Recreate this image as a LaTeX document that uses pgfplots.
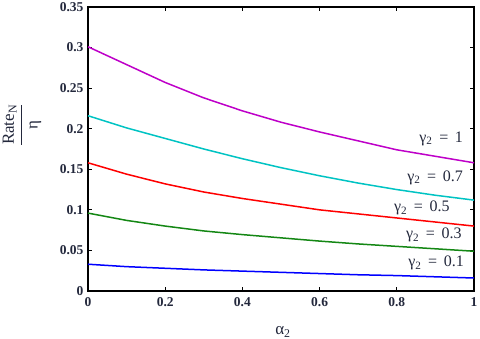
\documentclass[border=0pt]{standalone}
\usepackage{amsmath}
\usepackage{fontspec}
\setmainfont{Liberation Serif}
\usepackage{pgfplots}
\pgfplotsset{compat=1.18}
\definecolor{cmag}{RGB}{190,0,200}
\definecolor{ccyan}{RGB}{0,195,195}
\definecolor{cred}{RGB}{255,0,0}
\definecolor{cgreen}{RGB}{20,135,20}
\definecolor{cblue}{RGB}{0,0,255}
\definecolor{ctxt}{RGB}{35,40,60}
\begin{document}
\begin{tikzpicture}
\begin{axis}[
  scale only axis,
  width=386pt, height=284pt,
  xmin=0, xmax=1, ymin=0, ymax=0.35,
  xtick={0,0.2,0.4,0.6,0.8,1},
  xticklabels={0,0.2,0.4,0.6,0.8,1},
  ytick={0,0.05,0.1,0.15,0.2,0.25,0.3,0.35},
  yticklabels={0,0.05,0.1,0.15,0.2,0.25,0.3,0.35},
  tick align=inside,
  major tick length=4pt,
  tick style={line width=1.2pt, black},
  axis line style={line width=1.6pt},
  ticklabel style={font=\bfseries\fontsize{13.5}{14}\selectfont, text=ctxt},
  /pgf/number format/assume math mode=true,
  xticklabel style={yshift=-3pt},
  yticklabel style={xshift=-1pt},
  xlabel={α\textsubscript{2}},
  xlabel style={at={(axis description cs:0.505,-0.144)}, anchor=center, font=\fontsize{17}{17}\selectfont, text=ctxt},
  ylabel={\fontsize{17}{17}\selectfont$\dfrac{\text{Rate}_{\text{N}}}{\text{η}}$},
  ylabel style={at={(axis description cs:-0.171,0.585)}, anchor=center, text=ctxt},
  every axis plot/.append style={line width=1.5pt},
  clip=false,
]
\addplot[cmag] coordinates {(0,0.301)(0.1,0.279)(0.2,0.257)(0.3,0.238)(0.4,0.222)(0.5,0.208)(0.6,0.196)(0.7,0.185)(0.8,0.174)(0.9,0.166)(1,0.158)};
\addplot[ccyan] coordinates {(0,0.216)(0.1,0.201)(0.2,0.188)(0.3,0.175)(0.4,0.163)(0.5,0.152)(0.6,0.142)(0.7,0.133)(0.8,0.125)(0.9,0.118)(1,0.112)};
\addplot[cred] coordinates {(0,0.158)(0.1,0.144)(0.2,0.132)(0.3,0.122)(0.4,0.114)(0.5,0.107)(0.6,0.100)(0.7,0.095)(0.8,0.090)(0.9,0.085)(1,0.080)};
\addplot[cgreen] coordinates {(0,0.096)(0.1,0.087)(0.2,0.080)(0.3,0.074)(0.4,0.0695)(0.5,0.0655)(0.6,0.0615)(0.7,0.058)(0.8,0.055)(0.9,0.052)(1,0.049)};
\addplot[cblue] coordinates {(0,0.033)(0.1,0.030)(0.2,0.028)(0.3,0.026)(0.4,0.0245)(0.5,0.023)(0.6,0.0215)(0.7,0.020)(0.8,0.019)(0.9,0.0175)(1,0.016)};
\node[text=ctxt, font=\fontsize{16}{16}\selectfont] at (axis cs:0.915,0.188) {γ\textsubscript{2}\, =\, 1};
\node[text=ctxt, font=\fontsize{16}{16}\selectfont] at (axis cs:0.899,0.140) {γ\textsubscript{2}\, =\, 0.7};
\node[text=ctxt, font=\fontsize{16}{16}\selectfont] at (axis cs:0.865,0.102) {γ\textsubscript{2}\, =\, 0.5};
\node[text=ctxt, font=\fontsize{16}{16}\selectfont] at (axis cs:0.896,0.0688) {γ\textsubscript{2}\, =\, 0.3};
\node[text=ctxt, font=\fontsize{16}{16}\selectfont] at (axis cs:0.902,0.0344) {γ\textsubscript{2}\, =\, 0.1};
\end{axis}
\pgfresetboundingbox
\path[use as bounding box] (-88pt,-48pt) rectangle (392pt,291pt);
\end{tikzpicture}
\end{document}
